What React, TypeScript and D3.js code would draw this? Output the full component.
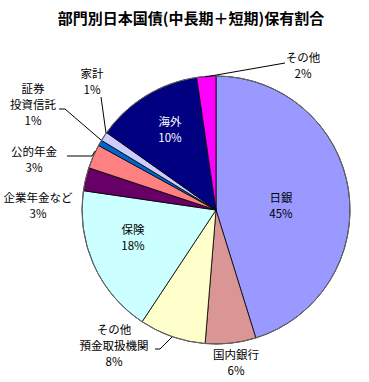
import * as d3 from 'd3';

// slice shares (clockwise from 12 o'clock)
const names = ['日銀', '国内銀行', 'その他預金取扱機関', '保険', '企業年金など', '公的年金', '証券投資信託', '家計', '海外', 'その他'];
const shares = [45.2, 6.1, 8.0, 18.0, 2.8, 2.9, 0.7, 1.1, 12.9, 2.3];
// percentage labels printed on the chart
const pctLabels = ['45%', '6%', '8%', '18%', '3%', '3%', '1%', '1%', '10%', '2%'];
const colors = ['#9999FF', '#D99694', '#FFFFCC', '#CCFFFF', '#660066', '#FF8080', '#0066CC', '#CCCCFF', '#000080', '#FF00FF'];

const W = 369;
const H = 382;
const cx = 216;
const cy = 210;
const R = 134;

// label placement: text lines and where they sit
const labelLayout: Record<string, { lines: string[]; x: number; y: number; fill?: string }> = {
  '日銀': { lines: ['日銀'], x: 281, y: 202 },
  '国内銀行': { lines: ['国内銀行'], x: 236, y: 359 },
  'その他預金取扱機関': { lines: ['その他', '預金取扱機関'], x: 114, y: 334 },
  '保険': { lines: ['保険'], x: 133, y: 234 },
  '企業年金など': { lines: ['企業年金など'], x: 38, y: 202 },
  '公的年金': { lines: ['公的年金'], x: 34, y: 156 },
  '証券投資信託': { lines: ['証券', '投資信託'], x: 33, y: 93 },
  '家計': { lines: ['家計'], x: 92, y: 78 },
  '海外': { lines: ['海外'], x: 170, y: 126, fill: '#fff' },
  'その他': { lines: ['その他'], x: 303, y: 62 },
};

const leaders = [
  [[155, 349], [160, 349], [172, 337]],
  [[67, 156], [92, 156], [95, 151]],
  [[59, 109], [65, 109], [101, 140]],
  [[101, 97], [106, 133]],
  [[285, 63], [205, 77]],
];

const App = () => {
  const pie = d3.pie<number>().sort(null).startAngle(0).endAngle(2 * Math.PI);
  const arcs = pie(shares);
  const arc = d3.arc<d3.PieArcDatum<number>>().innerRadius(0).outerRadius(R);
  const line = d3.line();
  const lh = 16;

  return (
    <div style={{ position: 'absolute', left: 0, top: 0 }}>
      <svg width={W} height={H} style={{ display: 'block', background: '#fff' }}>
        <text
          x={191}
          y={24}
          textAnchor='middle'
          fontFamily='"Noto Sans CJK JP", sans-serif'
          fontWeight='bold'
          fontSize={15}
          fill='#000'
        >
          部門別日本国債(中長期＋短期)保有割合
        </text>
        <g transform={`translate(${cx},${cy})`}>
          {arcs.map((a, i) => (
            <path key={names[i]} d={arc(a) || ''} fill={colors[i]} stroke='#000' strokeWidth={0.8} />
          ))}
          <circle r={R} fill='none' stroke='#666' strokeWidth={1} />
        </g>
        {leaders.map((pts, i) => (
          <path key={i} d={line(pts as [number, number][]) || ''} fill='none' stroke='#000' strokeWidth={1} />
        ))}
        {names.map((n, i) => {
          const l = labelLayout[n];
          const all = [...l.lines, pctLabels[i]];
          return (
            <text
              key={n}
              x={l.x}
              y={l.y}
              textAnchor='middle'
              fontFamily='"Noto Sans CJK JP", sans-serif'
              fontSize={11.5}
              fill={l.fill || '#000'}
            >
              {all.map((t, j) => (
                <tspan key={j} x={l.x} dy={j === 0 ? 0 : lh}>
                  {t}
                </tspan>
              ))}
            </text>
          );
        })}
      </svg>
    </div>
  );
};

export default App;
